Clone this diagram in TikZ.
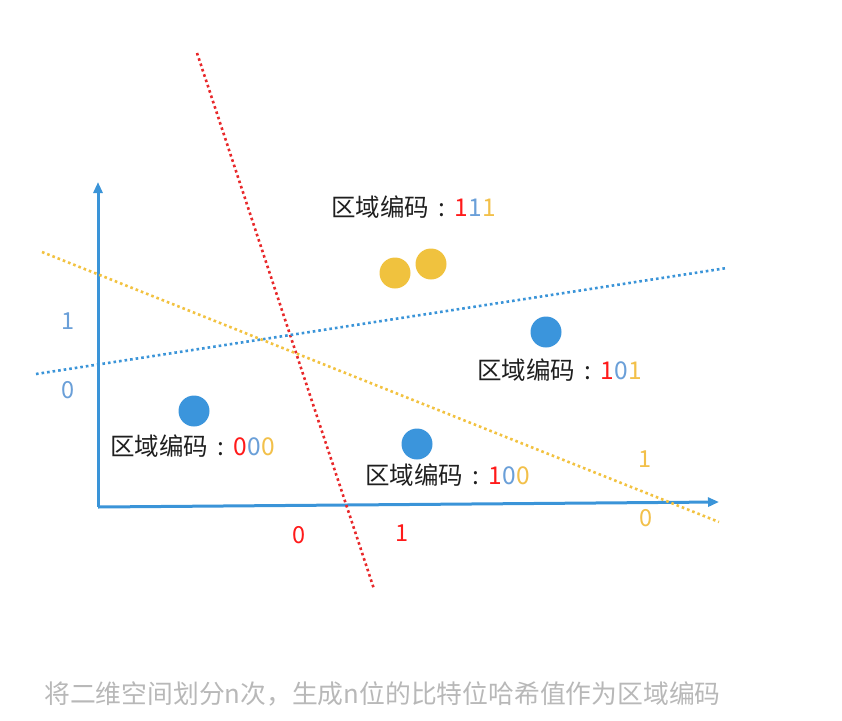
\documentclass[tikz,border=0pt]{standalone}
\usepackage{fontspec}
\newfontfamily\cjk{Noto Sans CJK SC}
\usetikzlibrary{arrows.meta}
\definecolor{axisblue}{HTML}{3A94D8}
\definecolor{dotblue}{HTML}{3B95DC}
\definecolor{dotyellow}{HTML}{F0C23E}
\definecolor{linered}{HTML}{E8282A}
\definecolor{lineblue}{HTML}{3A94D8}
\definecolor{lineyellow}{HTML}{F2C240}
\definecolor{dred}{HTML}{FF1A1A}
\definecolor{dblue}{HTML}{6A9FD8}
\definecolor{dyellow}{HTML}{F2C04A}
\definecolor{capgray}{HTML}{B8B8B8}
\newcommand{\codecolon}{\makebox[1.05em]{:}}
\tikzset{
  axisline/.style={axisblue, line width=3pt, -{Triangle[length=11pt,width=9pt]}},
  cutline/.style={line width=2.6pt, dash pattern=on 2.6pt off 3pt},
  pt/.style={circle, inner sep=0pt, minimum size=31pt},
  code/.style={font=\cjk\fontsize{24.5}{27}\selectfont, text=black!88, inner sep=0pt},
  digit/.style={font=\cjk\fontsize{23.5}{26}\selectfont, inner sep=0pt},
  caption/.style={font=\cjk\fontsize{25.8}{29}\selectfont, text=capgray, inner sep=0pt}
}
\begin{document}
\begin{tikzpicture}[x=1pt,y=-1pt]
\useasboundingbox (0,0) rectangle (842,720);
% axes
\coordinate (O) at (98,507);
\coordinate (Ytip) at (98,182);
\coordinate (Xtip) at (719,502);
\draw[axisline] (O) -- (Ytip);
\draw[axisline] (O) -- (Xtip);
% cut lines
\coordinate (r1) at (197,53);
\coordinate (r2) at (374,589);
\coordinate (b1) at (36,374);
\coordinate (b2) at (727,268);
\coordinate (y1) at (42,252);
\coordinate (y2) at (719,522);
\draw[cutline, linered] (r1) -- (r2);
\draw[cutline, lineblue] (b1) -- (b2);
\draw[cutline, lineyellow] (y1) -- (y2);
% points
\node[pt, fill=dotblue] (p000) at (194,411) {};
\node[pt, fill=dotblue] (p100) at (417,444) {};
\node[pt, fill=dotblue] (p101) at (546,332) {};
\node[pt, fill=dotyellow] (p111a) at (395,273) {};
\node[pt, fill=dotyellow] (p111b) at (431,264) {};
% region codes
\node[code, anchor=west] (c111) at (331,207) {区域编码\codecolon\textcolor{dred}{1}\textcolor{dblue}{1}\textcolor{dyellow}{1}};
\node[code, anchor=west] (c101) at (477,370) {区域编码\codecolon\textcolor{dred}{1}\textcolor{dblue}{0}\textcolor{dyellow}{1}};
\node[code, anchor=west] (c000) at (110,446) {区域编码\codecolon\textcolor{dred}{0}\textcolor{dblue}{0}\textcolor{dyellow}{0}};
\node[code, anchor=west] (c100) at (365,475) {区域编码\codecolon\textcolor{dred}{1}\textcolor{dblue}{0}\textcolor{dyellow}{0}};
% side labels
\node[digit, text=dblue] (bl1) at (68,321) {1};
\node[digit, text=dblue] (bl0) at (68,390) {0};
\node[digit, text=dred] (rl0) at (299,535) {0};
\node[digit, text=dred] (rl1) at (402,533) {1};
\node[digit, text=dyellow] (yl1) at (645,459) {1};
\node[digit, text=dyellow] (yl0) at (646,518) {0};
% caption
\node[caption, anchor=west] (cap) at (44,694) {将二维空间划分n次，生成n位的比特位哈希值作为区域编码};
\end{tikzpicture}
\end{document}
